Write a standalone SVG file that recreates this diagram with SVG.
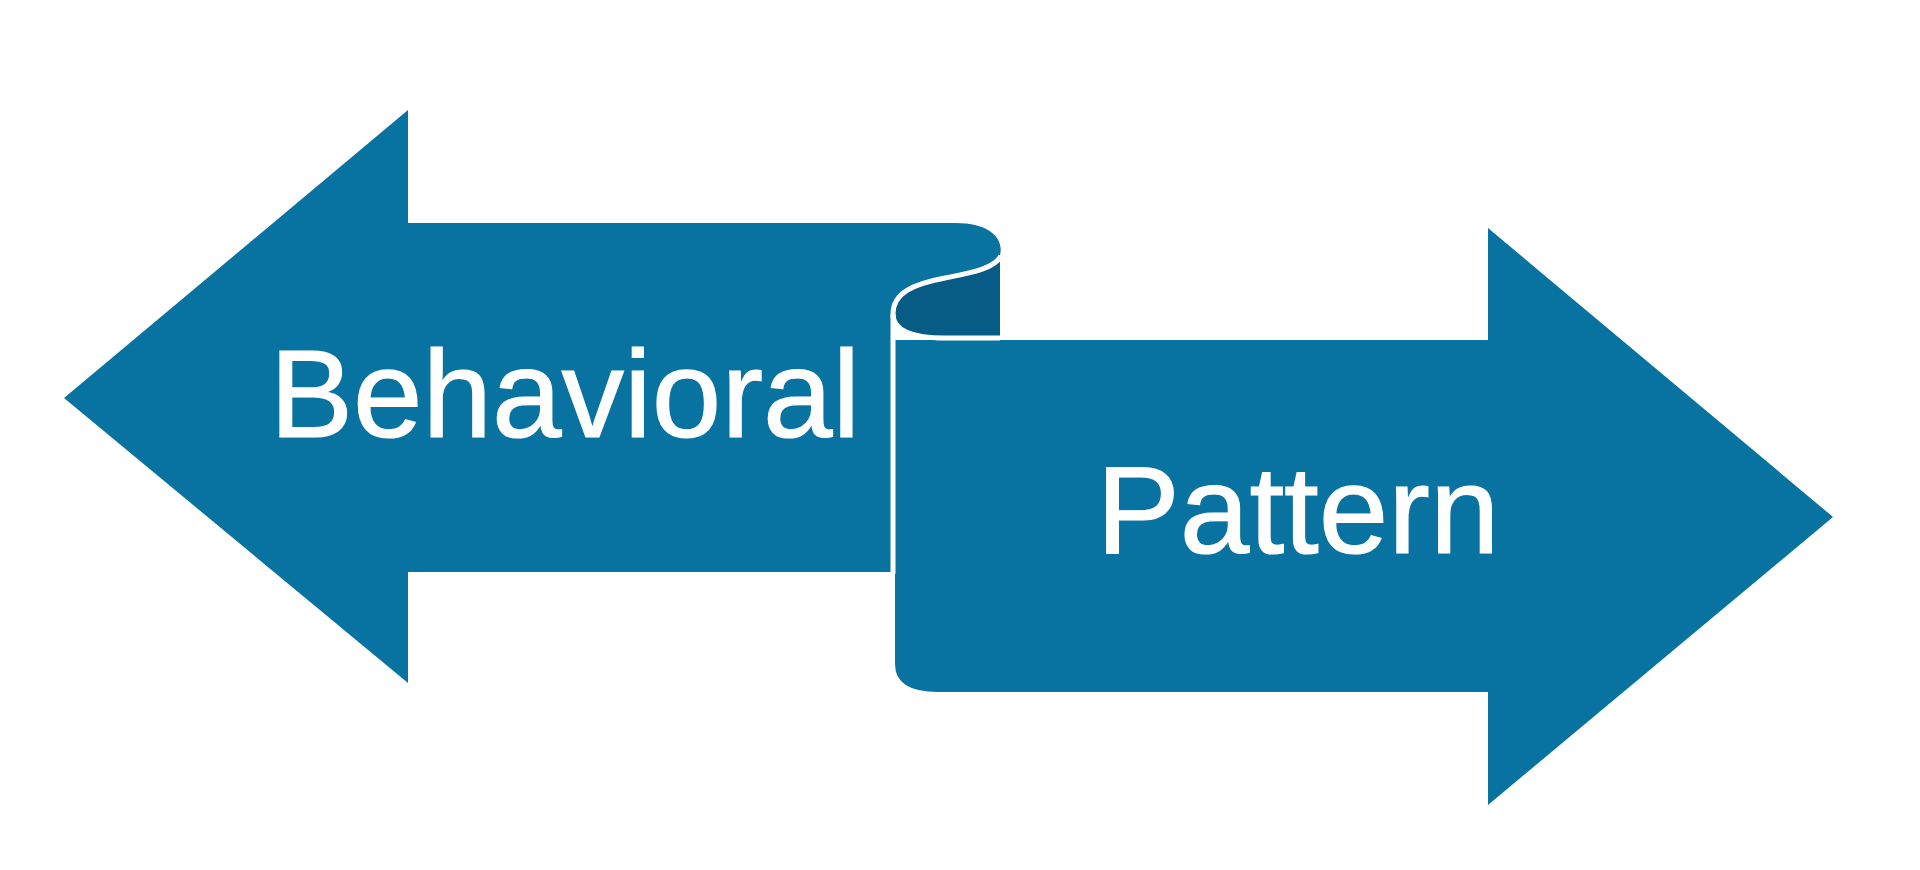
<svg xmlns="http://www.w3.org/2000/svg" width="1920" height="870" viewBox="0 0 1920 870">
<style>
.blue{fill:#0873a0}
.dark{fill:#065c85}
.edge{fill:none;stroke:#ffffff;stroke-width:5;stroke-linejoin:round;stroke-linecap:butt}
.lbl{font-family:"Liberation Sans",Arial,sans-serif;font-size:125px;fill:#ffffff;stroke:#ffffff;stroke-width:1.2}
</style>
<rect width="1920" height="870" fill="#ffffff"/>
<g id="pattern-arrow">
<path class="blue" d="M893,340 L1488,340 L1488,228 L1833,517 L1488,805 L1488,692 L938,692 Q895,692 895,664 L895,340 Z"/>
<text class="lbl" x="1298" y="553" text-anchor="middle">Pattern</text>
</g>
<g id="fold">
<path class="dark" d="M1000,255 C994,269 970,273 945,278 C913,284 893,293 893,314 C893,332 915,338 945,338 L1000,338 Z"/>
</g>
<g id="behavioral-arrow">
<path class="blue" d="M64,398 L408,110 L408,223 L955,223 C992,223 1004,240 1000,255 C994,269 970,273 945,278 C913,284 893,293 893,314 L893,572 L408,572 L408,683 Z"/>
<path class="edge" d="M1001,256 C994,269 970,273 945,278 C913,284 893,293 893,314 L893,574"/>
<path class="edge" d="M893,314 C893,332 915,338 945,338 L1000,338"/>
<text class="lbl" x="565" y="437" text-anchor="middle">Behavioral</text>
</g>
</svg>
